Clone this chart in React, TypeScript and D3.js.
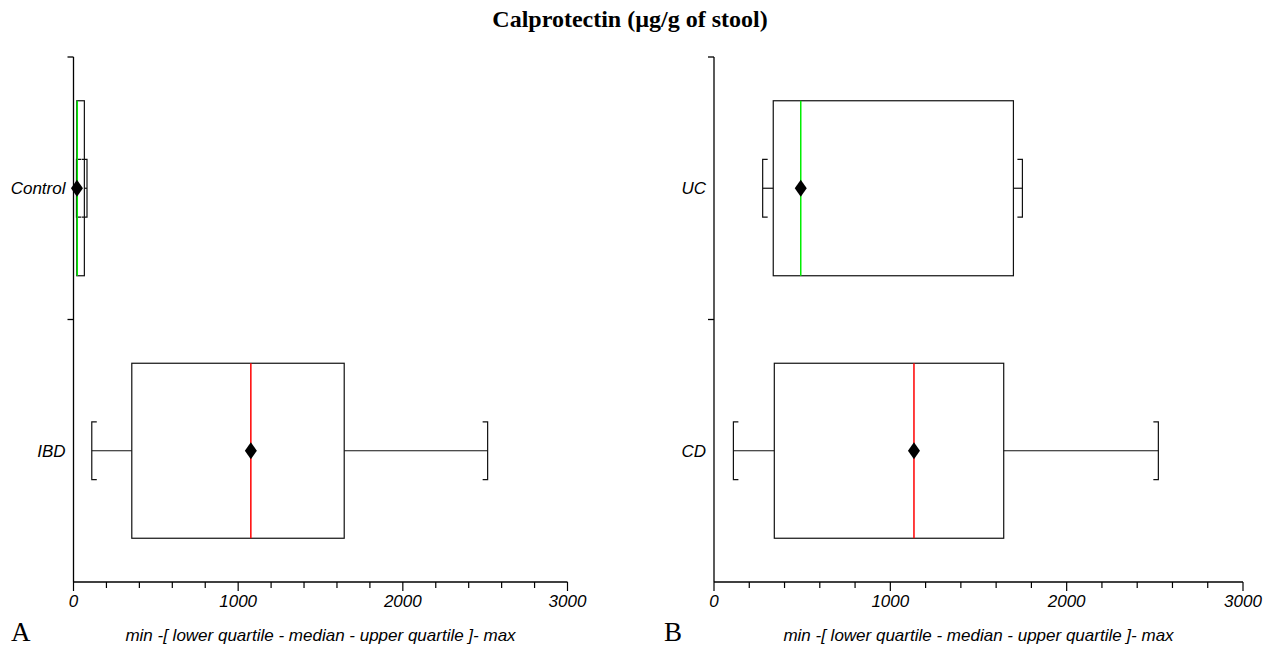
import React, { useEffect, useRef } from "react";
import * as d3 from "d3";

// panel A
const groupsA = ["Control", "IBD"];
const minA = [18, 111];
const q1A = [20, 354];
const medianA = [23, 1077];
const q3A = [66, 1644];
const maxA = [82, 2515];
const meanA = [21, 1077];

// panel B
const groupsB = ["UC", "CD"];
const minB = [276, 110];
const q1B = [336, 342];
const medianB = [492, 1134];
const q3B = [1698, 1643];
const maxB = [1749, 2520];
const meanB = [492, 1134];

const majorTicks = [0, 1000, 2000, 3000];
const minorTicks = d3.range(0, 3001, 200);
const xDomain = [0, 3000];

const title = "Calprotectin (\u00b5g/g of stool)";
const xLabel = "min -[ lower quartile - median - upper quartile ]- max";

const W = 1265;
const H = 646;
const sans = "'Liberation Sans', Arial, sans-serif";
const serif = "'Liberation Serif', 'Times New Roman', serif";
const medianColors = ["#00ee00", "#ff0000"];

function drawPanel(svg, {
    groups, min, q1, median, q3, max, mean,
    x0, x1, // pixel range of x axis
    top = 57, bottom = 582,
    letter, letterX,
}) {
    const x = d3.scaleLinear(xDomain, [x0, x1]);
    const y = d3.scaleBand(groups, [top, bottom]);
    const bw = y.bandwidth();
    const g = svg.append("g");

    // y axis
    g.append("line")
        .attr("x1", x0).attr("x2", x0)
        .attr("y1", top).attr("y2", bottom)
        .attr("stroke", "#000")
        .attr("stroke-width", 1.3);
    g.selectAll(".ytick")
        .data(groups.map((d) => y(d)))
        .join("line")
        .attr("x1", x0 - 6).attr("x2", x0)
        .attr("y1", (d) => d).attr("y2", (d) => d)
        .attr("stroke", "#000")
        .attr("stroke-width", 1.3);
    g.selectAll(".ylab")
        .data(groups)
        .join("text")
        .attr("x", x0 - 8)
        .attr("y", (d) => y(d) + bw / 2 + 6)
        .attr("text-anchor", "end")
        .attr("font-family", sans)
        .attr("font-style", "italic")
        .attr("font-size", 17)
        .text((d) => d);

    // x axis
    g.append("line")
        .attr("x1", x0).attr("x2", x1)
        .attr("y1", bottom).attr("y2", bottom)
        .attr("stroke", "#000")
        .attr("stroke-width", 1.3);
    g.selectAll(".xminor")
        .data(minorTicks)
        .join("line")
        .attr("x1", (d) => x(d)).attr("x2", (d) => x(d))
        .attr("y1", bottom)
        .attr("y2", (d) => bottom + (majorTicks.includes(d) ? 9 : 6))
        .attr("stroke", "#000")
        .attr("stroke-width", 1.2);
    g.selectAll(".xlab")
        .data(majorTicks)
        .join("text")
        .attr("x", (d) => x(d))
        .attr("y", bottom + 25)
        .attr("text-anchor", "middle")
        .attr("font-family", sans)
        .attr("font-style", "italic")
        .attr("font-size", 17)
        .text((d) => d);
    g.append("text")
        .attr("x", (x0 + x1) / 2)
        .attr("y", 641)
        .attr("text-anchor", "middle")
        .attr("font-family", sans)
        .attr("font-style", "italic")
        .attr("font-size", 17)
        .text(xLabel);
    g.append("text")
        .attr("x", letterX)
        .attr("y", 641)
        .attr("font-family", serif)
        .attr("font-size", 27)
        .text(letter);

    // boxes
    groups.forEach((name, i) => {
        const cy = y(name) + bw / 2;
        const bh = bw * 2 / 3;
        const ch = bw * 0.22;
        const b = g.append("g").attr("stroke", "#111").attr("stroke-width", 1.2).attr("fill", "none");
        // whiskers
        b.append("line")
            .attr("x1", x(min[i])).attr("x2", x(q1[i]))
            .attr("y1", cy).attr("y2", cy);
        b.append("line")
            .attr("x1", x(q3[i])).attr("x2", x(max[i]))
            .attr("y1", cy).attr("y2", cy);
        b.append("path")
            .attr("d", `M${x(min[i]) + 5},${cy - ch / 2}H${x(min[i])}V${cy + ch / 2}H${x(min[i]) + 5}`);
        b.append("path")
            .attr("d", `M${x(max[i]) - 5},${cy - ch / 2}H${x(max[i])}V${cy + ch / 2}H${x(max[i]) - 5}`);
        // box
        b.append("rect")
            .attr("x", x(q1[i]))
            .attr("y", cy - bh / 2)
            .attr("width", x(q3[i]) - x(q1[i]))
            .attr("height", bh);
        // median
        g.append("line")
            .attr("x1", x(median[i])).attr("x2", x(median[i]))
            .attr("y1", cy - bh / 2).attr("y2", cy + bh / 2)
            .attr("stroke", medianColors[i])
            .attr("stroke-width", 1.5);
        // mean
        const mx = x(mean[i]);
        g.append("path")
            .attr("d", `M${mx},${cy - 8.5}L${mx + 6},${cy}L${mx},${cy + 8.5}L${mx - 6},${cy}Z`)
            .attr("fill", "#000");
    });
}

export default function App() {
    const ref = useRef(null);

    useEffect(() => {
        const svg = d3.select(ref.current);
        svg.selectAll("*").remove();

        svg.append("text")
            .attr("x", 630)
            .attr("y", 27)
            .attr("text-anchor", "middle")
            .attr("font-family", serif)
            .attr("font-weight", "bold")
            .attr("font-size", 24)
            .text(title);

        drawPanel(svg, {
            groups: groupsA, min: minA, q1: q1A, median: medianA, q3: q3A, max: maxA, mean: meanA,
            x0: 73.5, x1: 567.5, letter: "A", letterX: 11,
        });
        drawPanel(svg, {
            groups: groupsB, min: minB, q1: q1B, median: medianB, q3: q3B, max: maxB, mean: meanB,
            x0: 714, x1: 1243, letter: "B", letterX: 664,
        });
    }, []);

    return (
        <svg ref={ref} width={W} height={H}
            style={{ position: "absolute", left: 0, top: 0, background: "#fff" }} />
    );
}
